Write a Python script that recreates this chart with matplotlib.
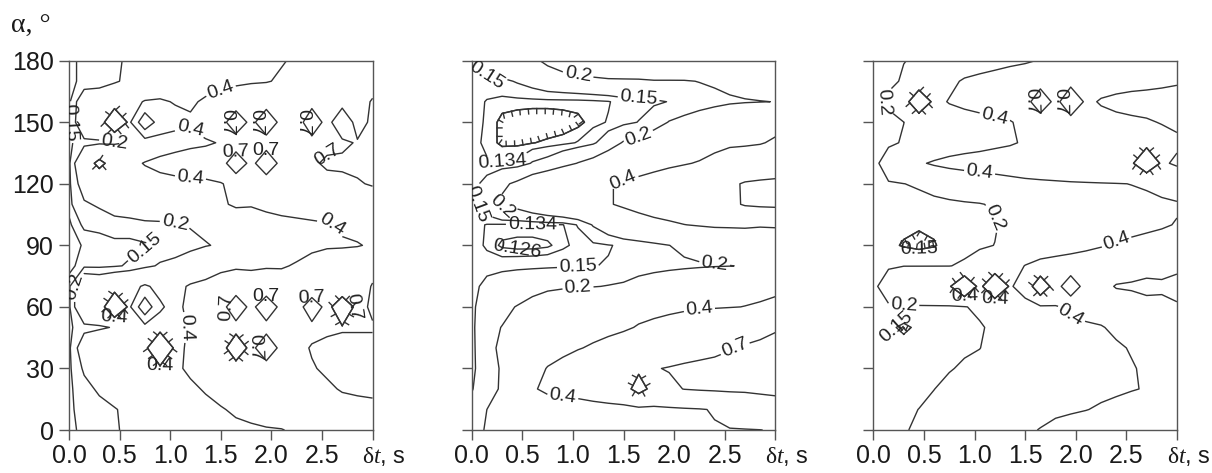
import numpy as np
import matplotlib
matplotlib.use("Agg")
import matplotlib.pyplot as plt
from matplotlib.path import Path
from matplotlib.patheffects import withTickedStroke

plt.rcParams['font.family'] = ['Liberation Sans', 'DejaVu Sans']
plt.rcParams['mathtext.fontset'] = 'custom'
plt.rcParams['mathtext.rm'] = 'Liberation Serif'
plt.rcParams['mathtext.it'] = 'Liberation Serif:italic'

# grid of the measurements
dt = [0.0, 0.15, 0.3, 0.45, 0.6, 0.75, 0.9, 1.05, 1.2, 1.35, 1.5,
      1.65, 1.8, 1.95, 2.1, 2.25, 2.4, 2.55, 2.7, 2.85, 3.0]
alpha = [0, 10, 20, 30, 40, 50, 60, 70, 80, 90, 100, 110, 120, 130, 140, 150, 160, 170, 180]
levels = [0.126, 0.134, 0.15, 0.2, 0.4, 0.7]

# values, rows = alpha 0..180
z_left = [
    [.14, .16, .17, .19, .22, .25, .28, .30, .32, .34, .35, .37, .38, .39, .395, .42, .44, .46, .48, .50, .50],
    [.14, .17, .18, .195, .22, .25, .28, .31, .34, .37, .39, .42, .44, .46, .48, .50, .52, .55, .60, .62, .65],
    [.14, .18, .21, .24, .27, .30, .33, .36, .38, .41, .45, .48, .50, .52, .55, .60, .62, .66, .72, .74, .74],
    [.14, .21, .26, .30, .33, .35, .37, .38, .42, .46, .50, .55, .55, .55, .58, .62, .68, .74, .76, .76, .76],
    [.14, .25, .28, .30, .32, .36, .60, .37, .42, .50, .55, .95, .60, .95, .60, .62, .72, .76, .76, .76, .76],
    [.14, .18, .19, .205, .24, .30, .34, .37, .41, .48, .55, .58, .58, .58, .58, .60, .62, .65, .68, .68, .68],
    [.14, .30, .30, .60, .36, .95, .42, .35, .45, .50, .55, .95, .60, .95, .60, .55, .90, .60, .92, .62, .74],
    [.14, .30, .28, .32, .35, .42, .36, .35, .42, .45, .50, .50, .47, .47, .46, .46, .46, .47, .48, .55, .72],
    [.13, .14, .14, .145, .155, .18, .21, .22, .25, .30, .35, .38, .38, .39, .39, .41, .45, .50, .50, .55, .60],
    [.13, .135, .135, .14, .14, .145, .152, .17, .18, .195, .21, .25, .30, .33, .35, .36, .37, .38, .385, .39, .42],
    [.13, .155, .16, .17, .17, .18, .18, .19, .205, .22, .26, .30, .33, .35, .36, .37, .38, .39, .42, .45, .50],
    [.14, .19, .21, .24, .26, .28, .30, .32, .34, .36, .38, .42, .41, .43, .45, .46, .47, .48, .50, .52, .55],
    [.14, .24, .25, .28, .30, .32, .34, .35, .36, .37, .39, .45, .50, .50, .50, .52, .55, .60, .63, .68, .72],
    [.14, .30, .45, .32, .35, .41, .45, .48, .50, .50, .55, .95, .60, .95, .60, .60, .65, .75, .75, .75, .78],
    [.14, .18, .185, .19, .205, .25, .30, .33, .36, .38, .41, .50, .55, .55, .55, .60, .60, .62, .65, .72, .80],
    [.14, .28, .30, .60, .36, .95, .55, .45, .42, .48, .55, .95, .60, .95, .60, .55, .90, .60, .92, .60, .75],
    [.14, .26, .26, .30, .35, .41, .42, .39, .38, .42, .45, .50, .55, .55, .55, .55, .60, .60, .60, .60, .72],
    [.14, .16, .17, .19, .22, .25, .28, .30, .32, .34, .36, .37, .38, .39, .42, .45, .47, .50, .52, .55, .60],
    [.14, .16, .17, .19, .21, .24, .27, .29, .31, .33, .35, .36, .37, .38, .39, .42, .45, .48, .50, .52, .55],
]

z_mid = [
    [.16, .21, .24, .27, .29, .31, .32, .33, .34, .35, .36, .37, .375, .38, .385, .39, .39, .395, .395, .398, .41],
    [.16, .20, .23, .25, .27, .29, .30, .31, .32, .33, .34, .35, .36, .37, .38, .39, .41, .45, .50, .55, .60],
    [.148, .17, .21, .26, .38, .44, .46, .48, .52, .56, .60, .80, .62, .66, .705, .72, .73, .74, .74, .75, .75],
    [.14, .18, .205, .25, .32, .41, .46, .50, .54, .58, .62, .66, .69, .71, .73, .74, .75, .76, .76, .77, .78],
    [.14, .185, .21, .24, .28, .31, .35, .39, .42, .45, .48, .52, .55, .58, .61, .64, .66, .69, .72, .74, .76],
    [.14, .19, .201, .21, .24, .27, .30, .32, .34, .36, .38, .41, .43, .45, .47, .50, .53, .56, .60, .64, .68],
    [.14, .18, .19, .202, .22, .25, .27, .29, .31, .33, .34, .35, .36, .37, .38, .385, .39, .395, .402, .41, .42],
    [.14, .16, .17, .175, .18, .185, .19, .195, .197, .203, .21, .23, .25, .27, .29, .31, .33, .35, .36, .37, .38],
    [.14, .14, .142, .144, .145, .146, .147, .148, .149, .152, .16, .17, .175, .18, .185, .19, .195, .198, .205, .22, .25],
    [.14, .132, .124, .122, .122, .124, .131, .138, .142, .148, .155, .165, .18, .199, .22, .24, .26, .28, .30, .32, .34],
    [.14, .133, .132, .132, .132, .133, .133, .152, .205, .25, .30, .33, .36, .38, .398, .41, .42, .42, .42, .41, .41],
    [.14, .17, .21, .22, .25, .28, .31, .34, .37, .39, .42, .45, .47, .48, .50, .55, .60, .65, .72, .74, .75],
    [.14, .16, .19, .21, .24, .27, .30, .33, .36, .39, .42, .45, .48, .50, .52, .55, .60, .66, .72, .74, .75],
    [.14, .136, .135, .137, .152, .16, .18, .202, .22, .25, .28, .31, .34, .37, .39, .41, .45, .50, .50, .52, .55],
    [.14, .13, .124, .124, .1255, .128, .13, .135, .145, .17, .205, .22, .25, .28, .31, .33, .35, .37, .38, .39, .42],
    [.14, .132, .123, .12, .118, .118, .12, .123, .13, .135, .142, .151, .17, .203, .22, .24, .26, .28, .30, .32, .35],
    [.14, .133, .13, .13, .13, .13, .13, .13, .131, .133, .14, .14, .145, .151, .16, .17, .18, .19, .195, .198, .201],
    [.14, .142, .145, .152, .16, .17, .175, .18, .185, .19, .19, .19, .195, .195, .195, .202, .21, .22, .23, .24, .25],
    [.14, .17, .18, .185, .19, .21, .23, .25, .26, .27, .28, .29, .30, .30, .31, .31, .32, .32, .33, .33, .34],
]

z_right = [
    [.16, .18, .195, .21, .23, .25, .27, .29, .32, .35, .38, .405, .44, .47, .50, .52, .54, .56, .58, .60, .62],
    [.16, .17, .185, .201, .22, .24, .26, .28, .30, .32, .34, .36, .37, .38, .395, .42, .45, .48, .50, .52, .55],
    [.16, .16, .17, .18, .199, .22, .24, .26, .28, .30, .31, .32, .33, .34, .35, .36, .37, .39, .41, .45, .50],
    [.16, .16, .17, .18, .185, .195, .21, .23, .26, .28, .30, .32, .34, .35, .36, .37, .38, .39, .42, .48, .52],
    [.16, .16, .17, .175, .18, .185, .19, .198, .23, .26, .29, .31, .33, .35, .36, .37, .38, .41, .46, .52, .56],
    [.16, .16, .14, .16, .17, .18, .185, .19, .22, .26, .30, .33, .35, .37, .38, .39, .43, .48, .53, .58, .62],
    [.16, .18, .19, .19, .19, .19, .195, .22, .26, .30, .34, .37, .39, .42, .45, .48, .52, .55, .60, .64, .68],
    [.16, .30, .32, .33, .35, .38, .60, .35, .60, .38, .48, .95, .55, .95, .55, .60, .72, .74, .78, .74, .76],
    [.16, .18, .198, .198, .198, .198, .21, .24, .28, .33, .405, .45, .46, .47, .48, .50, .52, .55, .58, .62, .66],
    [.16, .16, .146, .138, .146, .17, .18, .19, .201, .23, .27, .30, .33, .35, .37, .39, .41, .42, .43, .44, .45],
    [.16, .16, .16, .155, .16, .165, .17, .18, .195, .22, .25, .28, .30, .32, .34, .35, .36, .37, .38, .39, .405],
    [.16, .16, .17, .175, .18, .185, .19, .195, .21, .24, .27, .30, .32, .33, .34, .35, .36, .37, .38, .385, .39],
    [.16, .19, .199, .21, .23, .25, .27, .29, .31, .33, .35, .36, .37, .38, .385, .39, .395, .402, .41, .43, .46],
    [.16, .27, .33, .38, .42, .45, .47, .48, .50, .52, .54, .56, .57, .58, .60, .62, .64, .66, .95, .66, .74],
    [.16, .18, .21, .24, .27, .30, .32, .34, .36, .38, .42, .48, .52, .55, .56, .57, .58, .60, .62, .62, .66],
    [.16, .17, .199, .24, .28, .31, .33, .35, .37, .39, .44, .50, .55, .58, .60, .62, .64, .66, .68, .71, .74],
    [.16, .22, .30, .60, .35, .41, .44, .46, .48, .50, .55, .95, .60, .95, .65, .72, .76, .78, .78, .78, .78],
    [.16, .18, .21, .25, .30, .36, .42, .45, .48, .50, .52, .55, .58, .60, .60, .60, .60, .62, .64, .66, .68],
    [.16, .17, .198, .21, .23, .26, .29, .31, .33, .36, .38, .41, .44, .46, .48, .50, .52, .53, .54, .55, .55],
]

# where the labels sit (dt, alpha)
labels_left = {
    0.15: [(0.03, 150), (0.75, 86)],
    0.2: [(0.4, 140), (1.0, 103), (0.05, 68)],
    0.4: [(1.5, 166), (1.2, 144), (1.2, 123), (2.6, 100), (1.3, 52)],
}
islands_left = {
    0.4: [(0.85, 33), (0.4, 56)],
    0.7: [(1.6, 135), (1.6, 150), (1.9, 150), (1.9, 135), (2.4, 150), (2.55, 132), (1.9, 40), (2.4, 60), (2.75, 60), (1.6, 60), (1.95, 60)],
}
hachure_left = [(0.45, 150), (0.3, 130), (2.7, 150), (0.45, 60), (0.9, 40), (1.65, 40), (2.7, 60)]

labels_mid = {
    0.15: [(0.12, 172), (1.7, 157), (0.05, 110), (1.0, 80)],
    0.2: [(1.0, 178), (1.65, 146), (0.3, 106), (2.35, 83), (1.0, 66)],
    0.134: [(0.22, 131), (0.55, 100)],
    0.4: [(1.5, 122), (2.2, 56), (0.85, 16)],
    0.7: [(2.6, 39)],
}
islands_mid = {0.126: [(0.5, 86)]}
hachure_mid = [(0.6, 148), (1.65, 20)]

labels_right = {
    0.2: [(0.05, 158), (1.2, 108), (0.33, 62)],
    0.15: [(0.15, 48)],
    0.4: [(1.15, 152), (1.05, 127), (2.45, 92), (2.0, 58)],
}
islands_right = {
    0.15: [(0.4, 86)],
    0.4: [(0.85, 64), (1.25, 64)],
    0.7: [(1.55, 160), (1.9, 158)],
}
hachure_right = [(0.45, 160), (2.7, 130), (0.9, 70), (1.2, 70), (1.65, 70), (0.45, 92), (0.3, 50)]

line_col = '#333333'
fmt = lambda v: f"{v:g}"


def hachure(ax, cs, X, Y, Z, points):
    for lev, p in zip(cs.levels, cs.get_paths()):
        if p.codes is None or len(p.vertices) == 0:
            continue
        v, c = p.vertices, p.codes
        starts = list(np.where(c == Path.MOVETO)[0]) + [len(v)]
        for s, e in zip(starts[:-1], starts[1:]):
            seg = v[s:e].copy()
            closed = c[e - 1] == Path.CLOSEPOLY or np.allclose(seg[0], seg[-1])
            if not closed:
                continue
            seg[-1] = seg[0]
            cx, cy = seg[:-1, 0].mean(), seg[:-1, 1].mean()
            if not any(abs(cx - px) < 0.13 and abs(cy - py) < 8 for px, py in points):
                continue
            area = 0.5 * np.sum(seg[:-1, 0] * seg[1:, 1] - seg[1:, 0] * seg[:-1, 1])
            sign = 1 if area > 0 else -1
            i = np.argmin(np.abs(np.array(Y) - cy))
            j = np.argmin(np.abs(np.array(X) - cx))
            peak = Z[i][j] > lev
            ang = -90 * sign if peak else 90 * sign
            ax.plot(seg[:, 0], seg[:, 1], color=line_col, lw=1.0,
                    path_effects=[withTickedStroke(spacing=6, angle=ang, length=0.6)])


def put_labels(ax, cs, lev, pts, inline):
    # snap each point to the nearest vertex of its own level, then label there
    k = list(cs.levels).index(lev)
    for x, y in pts:
        v = cs.get_paths()[k].vertices
        if len(v) == 0:
            continue
        d = ((v[:, 0] - x) / 3.0) ** 2 + ((v[:, 1] - y) / 180.0) ** 2
        vx, vy = v[np.argmin(d)]
        cs.add_label_near(vx, vy, inline=inline, inline_spacing=2)


def panel(ax, Z, labels, islands, hpoints, show_y):
    cs = ax.contour(dt, alpha, np.array(Z), levels=levels, colors=line_col, linewidths=1.0)
    hachure(ax, cs, dt, alpha, Z, hpoints)
    cs.clabel(fmt=fmt, fontsize=14, colors='#222222', manual=[])
    for lev, pts in labels.items():
        put_labels(ax, cs, lev, pts, True)
    for lev, pts in islands.items():
        put_labels(ax, cs, lev, pts, False)
    ax.set_xlim(0, 3)
    ax.set_ylim(0, 180)
    ax.set_xticks([0, 0.5, 1.0, 1.5, 2.0, 2.5, 3.0])
    ax.set_xticklabels(['0.0', '0.5', '1.0', '1.5', '2.0', '2.5', ''])
    ax.set_yticks([0, 30, 60, 90, 120, 150, 180])
    if show_y:
        ax.set_yticklabels(['0', '30', '60', '90', '120', '150', '180'])
    else:
        ax.set_yticklabels([])
    ax.tick_params(direction='out', length=7, width=1.0, color='#555555',
                   labelsize=18, labelcolor='#1a1a1a')
    ax.tick_params(axis='x', pad=3)
    ax.tick_params(axis='y', pad=4)
    for sp in ax.spines.values():
        sp.set_color('#555555')
        sp.set_linewidth(1.0)
    ax.text(2.9, -0.04, r'$\mathrm{\delta}\mathit{t}$, s', transform=ax.get_xaxis_transform(),
            ha='left', va='top', fontsize=17, color='#1a1a1a')


fig = plt.figure(figsize=(12.12, 4.73), dpi=100)
lefts = [0.0569, 0.3892, 0.7206]
data = [(z_left, labels_left, islands_left, hachure_left),
        (z_mid, labels_mid, islands_mid, hachure_mid),
        (z_right, labels_right, islands_right, hachure_right)]
for k, (l, d) in enumerate(zip(lefts, data)):
    ax = fig.add_axes([l, 0.0909, 0.2505, 0.7808])
    panel(ax, *d, show_y=(k == 0))

fig.text(0.009, 0.945, 'α, °', family='Liberation Serif', fontsize=20,
         ha='left', va='center', color='#1a1a1a')

fig.savefig('out.png', dpi=100)
